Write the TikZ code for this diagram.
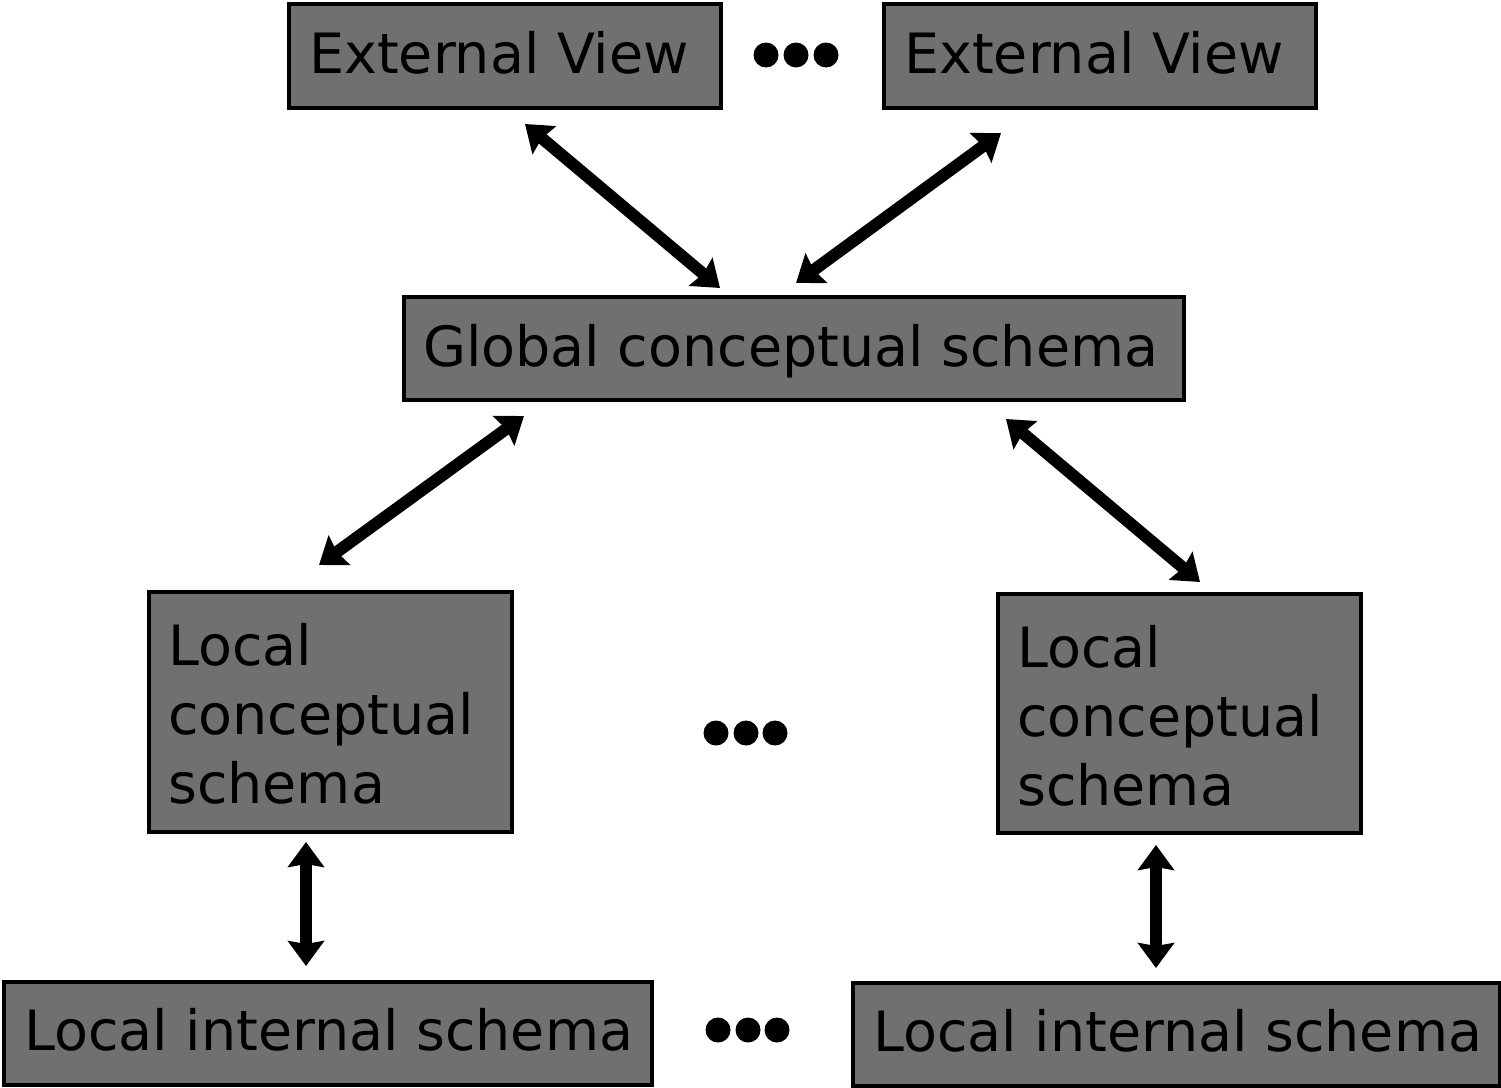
\documentclass[tikz,border=0pt]{standalone}
\usepackage{fontspec}
\setmainfont{DejaVu Sans}
\usetikzlibrary{arrows.meta}
\definecolor{boxgray}{HTML}{707070}
\begin{document}
\begin{tikzpicture}[x=1pt,y=-1pt,
  box/.style={draw=black,fill=boxgray,line width=3.5pt,inner sep=0pt,anchor=north west},
  lbl/.style={anchor=base west,inner sep=0pt,font=\fontsize{55.5}{69}\selectfont},
  dot/.style={circle,fill=black,inner sep=0pt,minimum size=25pt},
  arr/.style={line width=12pt,{Stealth[length=25pt,width=36pt,inset=3pt]}-{Stealth[length=25pt,width=36pt,inset=3pt]}}]
\useasboundingbox (0,0) rectangle (1501,1087);
% boxes
\node[box,minimum width=432pt,minimum height=104pt] (ev1) at (287,2) {};
\node[box,minimum width=432pt,minimum height=104pt] (ev2) at (882,2) {};
\node[box,minimum width=780pt,minimum height=103pt] (gcs) at (402,295) {};
\node[box,minimum width=363pt,minimum height=240pt] (lcs1) at (147,590) {};
\node[box,minimum width=363pt,minimum height=239pt] (lcs2) at (996,592) {};
\node[box,minimum width=648pt,minimum height=103pt] (lis1) at (2,980) {};
\node[box,minimum width=647pt,minimum height=103pt] (lis2) at (851,981) {};
% labels
\node[lbl] (tev1) at (309,73) {External View};
\node[lbl] (tev2) at (904,73) {External View};
\node[lbl] (tgcs) at (423,366) {Global conceptual schema};
\node[lbl] (tlcs1) at (168,665) {\vtop{\baselineskip=69pt\hbox{Local}\hbox{conceptual}\hbox{schema}}};
\node[lbl] (tlcs2) at (1017,667) {\vtop{\baselineskip=69pt\hbox{Local}\hbox{conceptual}\hbox{schema}}};
\node[lbl] (tlis1) at (24,1050) {Local internal schema};
\node[lbl] (tlis2) at (873,1051) {Local internal schema};
% dots
\foreach \n/\x/\y in {a1/766/55,a2/796/55,a3/826/55,b1/716/733,b2/746/733,b3/775/733,c1/718/1030,c2/748/1030,c3/777/1030}
  \node[dot] (dot\n) at (\x,\y) {};
% arrow endpoints
\coordinate (p1s) at (525,124); \coordinate (p1e) at (720,288);
\coordinate (p2s) at (1001,133); \coordinate (p2e) at (796,283);
\coordinate (p3s) at (524,416); \coordinate (p3e) at (319,565);
\coordinate (p4s) at (1006,419); \coordinate (p4e) at (1200,582);
\coordinate (p5s) at (306,842); \coordinate (p5e) at (306,966);
\coordinate (p6s) at (1156,845); \coordinate (p6e) at (1156,968);
\draw[arr] (p1s) -- (p1e);
\draw[arr] (p2s) -- (p2e);
\draw[arr] (p3s) -- (p3e);
\draw[arr] (p4s) -- (p4e);
\draw[arr] (p5s) -- (p5e);
\draw[arr] (p6s) -- (p6e);
\end{tikzpicture}
\end{document}
